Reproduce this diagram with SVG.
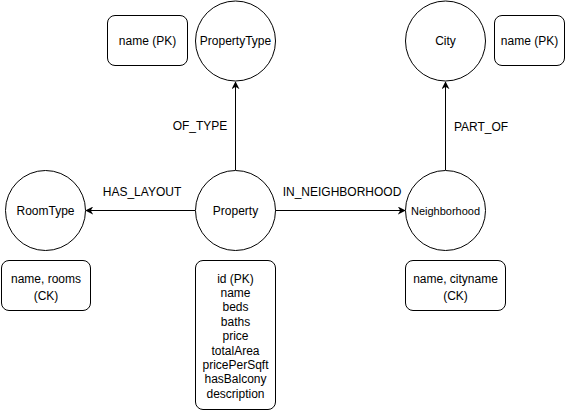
<svg xmlns="http://www.w3.org/2000/svg" width="565" height="411" viewBox="0 0 565 411">
<style>
.n{fill:#fff;stroke:#000;stroke-width:1}
.t{font-family:"Liberation Sans",Arial,sans-serif;font-size:12px;fill:#000;text-anchor:middle;dominant-baseline:central}
.e{stroke:#000;stroke-width:1;fill:none;marker-end:url(#a)}
</style>
<defs>
<marker id="a" viewBox="0 0 10 10" refX="9" refY="5" markerWidth="8" markerHeight="8" markerUnits="userSpaceOnUse" orient="auto">
<path d="M0,0 L10,5 L0,10 L3,5 Z" fill="#000"/>
</marker>
</defs>
<rect width="565" height="411" fill="#fff"/>
<g id="connectors">
<line class="e" x1="235.5" y1="170" x2="235.5" y2="82"/>
<line class="e" x1="195" y1="210.5" x2="86" y2="210.5"/>
<line class="e" x1="275" y1="210.5" x2="405" y2="210.5"/>
<line class="e" x1="445.5" y1="170" x2="445.5" y2="82"/>
<text class="t" x="200" y="126">OF_TYPE</text>
<text class="t" x="142" y="192">HAS_LAYOUT</text>
<text class="t" x="342" y="192">IN_NEIGHBORHOOD</text>
<text class="t" x="481" y="127">PART_OF</text>
</g>
<g id="propertytype-key">
<rect class="n" x="107.5" y="15.5" width="80" height="50" rx="7.5"/>
<text class="t" x="147.5" y="40.5">name (PK)</text>
</g>
<g id="propertytype">
<circle class="n" cx="235.5" cy="41" r="40"/>
<text class="t" x="235.5" y="41">PropertyType</text>
</g>
<g id="city">
<circle class="n" cx="445.5" cy="41" r="40"/>
<text class="t" x="445.5" y="41">City</text>
</g>
<g id="city-key">
<rect class="n" x="494.5" y="15.5" width="70" height="50" rx="7.5"/>
<text class="t" x="529.5" y="40.5">name (PK)</text>
</g>
<g id="roomtype">
<circle class="n" cx="45.5" cy="210.5" r="40"/>
<text class="t" x="45.5" y="210.5">RoomType</text>
</g>
<g id="roomtype-key">
<rect class="n" x="1.5" y="260.5" width="89" height="50" rx="7.5"/>
<text class="t" x="46" y="278.5">name, rooms</text>
<text class="t" x="46" y="295.5">(CK)</text>
</g>
<g id="property">
<circle class="n" cx="235.5" cy="210.5" r="40"/>
<text class="t" x="235.5" y="210.5">Property</text>
</g>
<g id="property-attrs">
<rect class="n" x="195.5" y="260.5" width="80" height="149" rx="7.5"/>
<text class="t" x="235.5" y="278.5">id (PK)</text>
<text class="t" x="235.5" y="292.9">name</text>
<text class="t" x="235.5" y="307.3">beds</text>
<text class="t" x="235.5" y="321.7">baths</text>
<text class="t" x="235.5" y="336.1">price</text>
<text class="t" x="235.5" y="350.5">totalArea</text>
<text class="t" x="235.5" y="364.9">pricePerSqft</text>
<text class="t" x="235.5" y="379.3">hasBalcony</text>
<text class="t" x="235.5" y="393.7">description</text>
</g>
<g id="neighborhood">
<circle class="n" cx="445.5" cy="210.5" r="40"/>
<text class="t" x="445.5" y="210.5" style="font-size:11px">Neighborhood</text>
</g>
<g id="neighborhood-key">
<rect class="n" x="405.5" y="260.5" width="100" height="50" rx="7.5"/>
<text class="t" x="455.5" y="278.5">name, cityname</text>
<text class="t" x="455.5" y="295.5">(CK)</text>
</g>
</svg>
